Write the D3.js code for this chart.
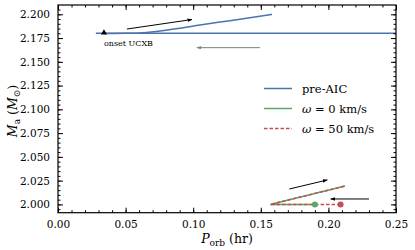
<!DOCTYPE html>
<html><head><meta charset="utf-8">
<script src="https://cdn.jsdelivr.net/npm/d3@7"></script>
<style>body{margin:0;background:#fff}svg{display:block}text{font-family:"DejaVu Serif",serif;fill:#000}</style>
</head><body><svg id="c" width="415" height="250"></svg>
<script>
// Data
const preHorizP = [0.028, 0.26];
const preHorizM = [2.180, 2.180];
const preTrackP = [0.034, 0.050, 0.0607, 0.0754, 0.0902, 0.105, 0.1272, 0.1583];
const preTrackM = [2.1798, 2.1800, 2.1803, 2.1824, 2.1853, 2.1887, 2.1933, 2.2000];
const w0P = [0.190, 0.157, 0.2123];
const w0M = [2.000, 2.000, 2.0193];
const w50P = [0.209, 0.157, 0.2123];
const w50M = [2.000, 2.000, 2.0193];
const onsetP = 0.034, onsetM = 2.180;
const endW0 = [0.190, 2.000], endW50 = [0.209, 2.000];
const arrows = [
  {from:[0.051,2.1845], to:[0.0991,2.1945], color:"#000"},
  {from:[0.1494,2.1649], to:[0.1027,2.1649], color:"#808080"},
  {from:[0.1711,2.0162], to:[0.1992,2.0257], color:"#000"},
  {from:[0.2300,2.0057], to:[0.2017,2.0057], color:"#000"}
];
const xTicks = [0.00,0.05,0.10,0.15,0.20,0.25];
const yTicks = [2.000,2.025,2.050,2.075,2.100,2.125,2.150,2.175,2.200];
const legendItems = [
  {label:"pre-AIC", color:"#4c72b0", dash:null},
  {label:"ω0", color:"#55a868", dash:null},
  {label:"ω50", color:"#c44e52", dash:"3.5,2"}
];
const colors = {blue:"#4c72b0", green:"#55a868", red:"#c44e52"};

(function(){
const L=58, R=396, T=5, B=212.7;
const x = d3.scaleLinear().domain([0,0.25]).range([L,R]);
const y = d3.scaleLinear().domain([2.0,2.2]).range([204.4,14.3]);
const svg = d3.select("#c");
const defs = svg.append("defs");
defs.append("clipPath").attr("id","clip").append("rect").attr("x",L).attr("y",T).attr("width",R-L).attr("height",B-T);
["#000","#808080"].forEach((c,i)=>{
  defs.append("marker").attr("id","ah"+i).attr("viewBox","0 0 10 10").attr("refX",9).attr("refY",5)
   .attr("markerWidth",5).attr("markerHeight",5).attr("orient","auto").attr("markerUnits","userSpaceOnUse")
   .append("path").attr("d","M0,1.5L10,5L0,8.5Z").attr("fill",c);
});

const line = d3.line().x(d=>x(d[0])).y(d=>y(d[1]));
const zip=(a,b)=>a.map((v,i)=>[v,b[i]]);
const g = svg.append("g").attr("clip-path","url(#clip)");
g.append("path").attr("d",line(zip(preHorizP,preHorizM))).attr("fill","none").attr("stroke",colors.blue).attr("stroke-width",1.5);
g.append("path").attr("d",d3.line().curve(d3.curveMonotoneX).x(d=>x(d[0])).y(d=>y(d[1]))(zip(preTrackP,preTrackM))).attr("fill","none").attr("stroke",colors.blue).attr("stroke-width",1.5);
g.append("path").attr("d",line(zip(w0P,w0M))).attr("fill","none").attr("stroke",colors.green).attr("stroke-width",1.5);
g.append("path").attr("d",line(zip(w50P,w50M))).attr("fill","none").attr("stroke",colors.red).attr("stroke-width",1.5).attr("stroke-dasharray","3.5,2");
g.append("circle").attr("cx",x(endW0[0])).attr("cy",y(endW0[1])).attr("r",3).attr("fill",colors.green);
g.append("circle").attr("cx",x(endW50[0])).attr("cy",y(endW50[1])).attr("r",3).attr("fill",colors.red);
g.append("path").attr("d",d3.symbol(d3.symbolTriangle,16)()).attr("transform",`translate(${x(onsetP)},${y(onsetM)-0.5})`).attr("fill","#000");
arrows.forEach(a=>{
  svg.append("line").attr("x1",x(a.from[0])).attr("y1",y(a.from[1])).attr("x2",x(a.to[0])).attr("y2",y(a.to[1]))
   .attr("stroke",a.color).attr("stroke-width",1).attr("marker-end",`url(#ah${a.color==="#000"?0:1})`);
});
svg.append("text").attr("x",x(onsetP)).attr("y",y(onsetM)+12.5).attr("font-size",8).text("onset UCXB");

// Axes with ticks inward on all sides
const xMinor = d3.range(0,0.2501,0.01);
const yMinor = d3.range(1.995,2.2096,0.005);
const ax = svg.append("g");
const axB = d3.axisBottom(x).tickValues(xTicks).tickSize(-5).tickPadding(8).tickFormat(d3.format(".2f"));
const axT = d3.axisTop(x).tickValues(xTicks).tickSize(-5).tickFormat("");
const axL = d3.axisLeft(y).tickValues(yTicks).tickSize(-5).tickPadding(8).tickFormat(d3.format(".3f"));
const axR = d3.axisRight(y).tickValues(yTicks).tickSize(-5).tickFormat("");
ax.append("g").attr("transform",`translate(0,${B})`).call(d3.axisBottom(x).tickValues(xMinor).tickSize(-2.5).tickFormat(""));
ax.append("g").attr("transform",`translate(0,${T})`).call(d3.axisTop(x).tickValues(xMinor).tickSize(-2.5).tickFormat(""));
ax.append("g").attr("transform",`translate(${L},0)`).call(d3.axisLeft(y).tickValues(yMinor).tickSize(-2.5).tickFormat(""));
ax.append("g").attr("transform",`translate(${R},0)`).call(d3.axisRight(y).tickValues(yMinor).tickSize(-2.5).tickFormat(""));
ax.append("g").attr("transform",`translate(0,${B})`).call(axB);
ax.append("g").attr("transform",`translate(0,${T})`).call(axT);
ax.append("g").attr("transform",`translate(${L},0)`).call(axL);
ax.append("g").attr("transform",`translate(${R},0)`).call(axR);
ax.selectAll(".domain").remove();
ax.selectAll(".tick line").attr("stroke","#000").attr("stroke-width",1);
ax.selectAll(".tick text").attr("font-family","DejaVu Serif").attr("font-size",10.5).attr("fill","#000");
svg.append("rect").attr("x",L).attr("y",T).attr("width",R-L).attr("height",B-T).attr("fill","none").attr("stroke","#000").attr("stroke-width",1.2);

// Axis labels
const xl = svg.append("text").attr("x",(L+R)/2).attr("y",243).attr("text-anchor","middle").attr("font-size",12.5);
xl.append("tspan").attr("font-style","italic").text("P");
xl.append("tspan").attr("font-size",9).attr("dy",2.5).text("orb");
xl.append("tspan").attr("dy",-2.5).text(" (hr)");
const yl = svg.append("text").attr("transform","translate(17,111) rotate(-90)").attr("text-anchor","middle").attr("font-size",12.5);
yl.append("tspan").attr("font-style","italic").text("M");
yl.append("tspan").attr("font-size",9).attr("dy",2.5).text("a");
yl.append("tspan").attr("dy",-2.5).text(" (");
yl.append("tspan").attr("font-style","italic").text("M");
yl.append("tspan").attr("font-size",9).attr("dy",2.5).text("⊙");
yl.append("tspan").attr("dy",-2.5).text(")");

// Legend
const lg = svg.append("g");
legendItems.forEach((it,i)=>{
  const yy = 88.5 + i*20;
  lg.append("line").attr("x1",264).attr("x2",292).attr("y1",yy).attr("y2",yy).attr("stroke",it.color).attr("stroke-width",1.5).attr("stroke-dasharray",it.dash);
  const t = lg.append("text").attr("x",302).attr("y",yy+4).attr("font-size",11.5);
  if(it.label==="pre-AIC") t.text("pre-AIC");
  else { t.append("tspan").attr("font-style","italic").text("ω"); t.append("tspan").text(it.label==="ω0"?" = 0 km/s":" = 50 km/s"); }
});
})();
</script></body></html>
